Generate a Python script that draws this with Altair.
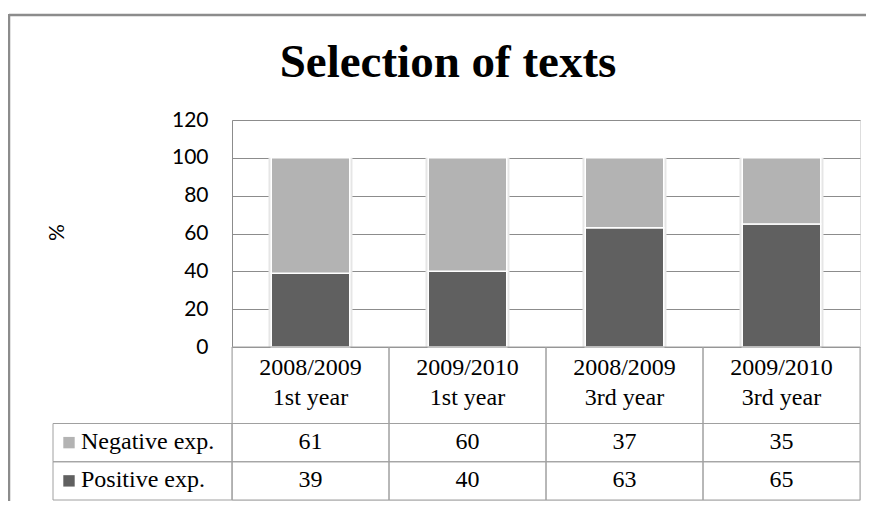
import altair as alt
import pandas as pd

# ---- data ----
title_text = "Selection of texts"
years = ["2008/2009", "2009/2010", "2008/2009", "2009/2010"]
levels = ["1st year", "1st year", "3rd year", "3rd year"]
negative = [61, 60, 37, 35]
positive = [39, 40, 63, 65]
series = ["Negative exp.", "Positive exp."]
series_colors = ["#B3B3B3", "#606060"]
y_ticks = [0, 20, 40, 60, 80, 100, 120]

cats = [f"{y}\n{l}" for y, l in zip(years, levels)]

bars = pd.DataFrame(
    [{"cat": c, "series": series[1], "value": p, "ord": 0} for c, p in zip(cats, positive)]
    + [{"cat": c, "series": series[0], "value": n, "ord": 1} for c, n in zip(cats, negative)]
)
totals = pd.DataFrame({"cat": cats, "total": [n + p for n, p in zip(negative, positive)]})

# table rows (in row units: header is two lines tall)
header = pd.DataFrame({"cat": cats, "top": 0, "bot": 2, "mid": 1, "txt": cats})
values_rows = []
for c, n, p in zip(cats, negative, positive):
    values_rows.append({"cat": c, "top": 2, "bot": 3, "mid": 2.5, "txt": str(n)})
    values_rows.append({"cat": c, "top": 3, "bot": 4, "mid": 3.5, "txt": str(p)})
values_tbl = pd.DataFrame(values_rows)
cells_tbl = pd.concat([header, values_tbl], ignore_index=True)

legend_rows = pd.DataFrame(
    {"series": series, "top": [2, 3], "bot": [3, 4], "mid": [2.5, 3.5]}
)

W, PLOT_H, TABLE_H = 628, 227, 153
H = PLOT_H + TABLE_H
GRID = "#8C8C8C"
LINE = "#A0A0A0"
SERIF = "Liberation Serif, Times New Roman, Times, serif"
SANS = "Lato, Open Sans, sans-serif"

xenc = alt.X("cat:N", sort=cats, axis=None,
             scale=alt.Scale(paddingInner=0, paddingOuter=0))
color = alt.Color("series:N", legend=None,
                  scale=alt.Scale(domain=series, range=series_colors))
tscale = alt.Scale(domain=[0, 4], range=[PLOT_H, H], nice=False, zero=False)
yscale = alt.Scale(domain=[0, 120], range=[PLOT_H, 0], nice=False)

shadow = alt.Chart(totals).mark_bar(
    width=alt.RelativeBandSize(0.535), color="#E6E6E6"
).encode(
    x=xenc,
    y=alt.Y("total:Q", scale=yscale,
            axis=alt.Axis(values=y_ticks, grid=True, gridColor=GRID, gridWidth=1,
                          domain=True, domainColor=GRID, ticks=False,
                          labelFont=SANS, labelFontSize=21, labelColor="#000000",
                          labelPadding=24,
                          title="%", titleFont=SANS, titleFontSize=21,
                          titleFontWeight="normal", titleColor="#000000",
                          titleAngle=270, titleX=-175, titleY=112,
                          titleAlign="center", titleBaseline="middle")),
)

bar_layer = alt.Chart(bars).mark_bar(
    width=alt.RelativeBandSize(0.5), stroke="white", strokeWidth=1.5
).encode(
    x=xenc,
    y=alt.Y("value:Q", stack="zero", scale=yscale, axis=None),
    color=color,
    order=alt.Order("ord:Q"),
)

cells = alt.Chart(cells_tbl).mark_rect(
    fill="white", fillOpacity=0, stroke=LINE, strokeWidth=1
).encode(
    x=xenc,
    y=alt.Y("top:Q", scale=tscale, axis=None),
    y2="bot:Q",
)

header_text = alt.Chart(header).mark_text(
    font=SERIF, fontSize=24, color="#000000",
    lineBreak="\n", lineHeight=30, baseline="middle", align="center", dy=-17
).encode(
    x=xenc,
    y=alt.Y("mid:Q", scale=tscale, axis=None),
    text="txt:N",
)

value_text = alt.Chart(values_tbl).mark_text(
    font=SERIF, fontSize=24, color="#000000",
    baseline="middle", align="center", dy=-1
).encode(
    x=xenc,
    y=alt.Y("mid:Q", scale=tscale, axis=None),
    text="txt:N",
)

legend_cells = alt.Chart(legend_rows).mark_rect(
    fill="white", fillOpacity=0, stroke=LINE, strokeWidth=1
).encode(
    x=alt.value(-179), x2=alt.value(0),
    y=alt.Y("top:Q", scale=tscale, axis=None),
    y2="bot:Q",
)

legend_text = alt.Chart(legend_rows).mark_text(
    font=SERIF, fontSize=24, color="#000000",
    align="left", baseline="middle", dy=-1
).encode(
    x=alt.value(-151),
    y=alt.Y("mid:Q", scale=tscale, axis=None),
    text="series:N",
)

legend_marks = alt.Chart(legend_rows).mark_point(
    shape="square", filled=True, size=130, opacity=1
).encode(
    x=alt.value(-163),
    y=alt.Y("mid:Q", scale=tscale, axis=None),
    color=color,
)

title_mark = alt.Chart(pd.DataFrame({"t": [title_text]})).mark_text(
    font=SERIF, fontSize=47, fontWeight="bold", color="#000000",
    align="center", baseline="alphabetic"
).encode(x=alt.value(216), y=alt.value(-43), text="t:N")

frame_top = alt.Chart(pd.DataFrame({"a": [0]})).mark_rule(
    color="#8C8C8C", strokeWidth=2.5
).encode(x=alt.value(-223), x2=alt.value(660), y=alt.value(-105))

frame_left = alt.Chart(pd.DataFrame({"a": [0]})).mark_rule(
    color="#8C8C8C", strokeWidth=2.5
).encode(x=alt.value(-223), y=alt.value(-106), y2=alt.value(420))

chart = alt.layer(
    shadow, bar_layer, cells, header_text, value_text, legend_cells,
    legend_text, legend_marks, title_mark, frame_top, frame_left
).resolve_scale(y="independent").properties(
    width=W, height=H,
    autosize=alt.AutoSizeParams(type="none"),
    padding={"left": 224, "top": 112, "right": 6, "bottom": 1},
).configure_view(strokeWidth=0).configure(background="white")

chart.save("out.html", embed_options={"renderer": "svg", "actions": False})
